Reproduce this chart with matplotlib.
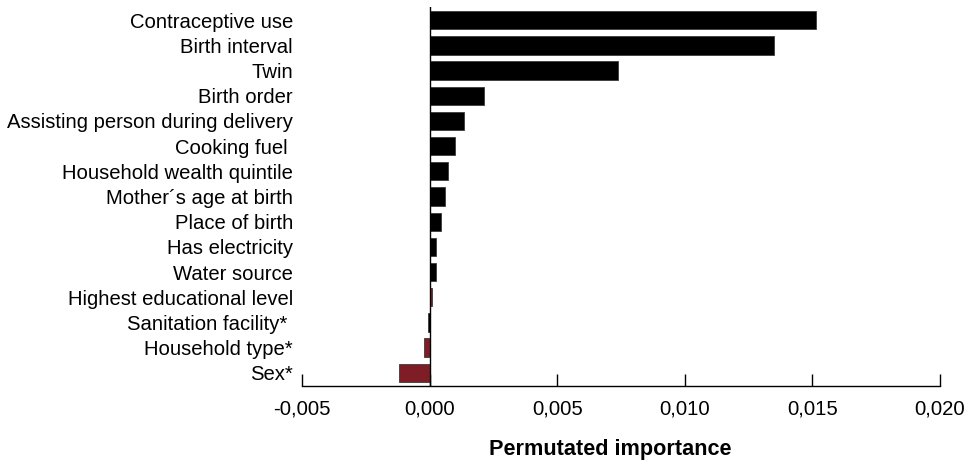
import matplotlib
matplotlib.use("Agg")
import matplotlib.pyplot as plt
from matplotlib.ticker import FuncFormatter

plt.rcParams['font.family'] = ['Liberation Sans', 'DejaVu Sans']

features = ["Contraceptive use", "Birth interval", "Twin", "Birth order",
            "Assisting person during delivery", "Cooking fuel ",
            "Household wealth quintile", "Mother\u00b4s age at birth",
            "Place of birth", "Has electricity", "Water source",
            "Highest educational level", "Sanitation facility* ",
            "Household type*", "Sex*"]
importance = [0.01516, 0.01349, 0.00740, 0.00212, 0.00135, 0.00101,
              0.00074, 0.00060, 0.00046, 0.00025, 0.00026,
              0.00010, -0.00005, -0.00023, -0.00118]
bar_colors = ["black"] * 11 + ["#7f1d27", "black", "#7f1d27", "#7f1d27"]
xticks = [-0.005, 0.0, 0.005, 0.010, 0.015, 0.020]

fig = plt.figure(figsize=(9.75, 4.62), dpi=100)
ax = fig.add_axes([302/975, 1-386/462, (940-302)/975, (386-7)/462])

n = len(features)
ypos = list(range(n - 1, -1, -1))
ax.barh(ypos, importance, height=0.73, color=bar_colors,
        edgecolor="#3a3a3a", linewidth=0.6, zorder=2)
ax.axvline(0, color="black", linewidth=1.0, zorder=3)

ax.set_ylim(-0.52, n - 0.48)
ax.set_xlim(-0.005, 0.020)
ax.set_yticks(ypos)
ax.set_yticklabels(features, fontsize=14.6)
ax.tick_params(axis='y', length=0, pad=6.5)
ax.set_xticks(xticks)
ax.xaxis.set_major_formatter(FuncFormatter(lambda v, p: f"{v:.3f}".replace('.', ',')))
ax.tick_params(axis='x', direction='in', length=9, width=1.0, labelsize=14.6, pad=10)

for s in ['top', 'right', 'left']:
    ax.spines[s].set_visible(False)
ax.spines['bottom'].set_linewidth(1.0)

fig.text(610/975, 1-450/462, "Permutated importance", fontsize=15.6,
         fontweight='bold', ha='center', va='center')

fig.savefig("out.png", dpi=100)
